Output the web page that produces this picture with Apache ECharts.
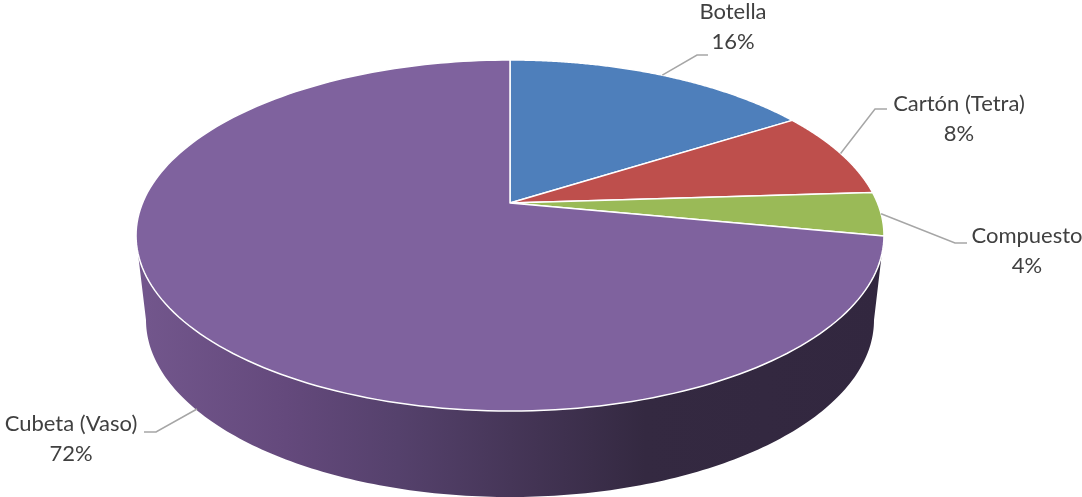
<!DOCTYPE html>
<html>
<head>
<meta charset="utf-8">
<style>
  html, body { margin: 0; padding: 0; background: #fff; }
  #chart { width: 1082px; height: 497px; }
</style>
<script src="https://cdn.jsdelivr.net/npm/echarts@6/dist/echarts.min.js"></script>
</head>
<body>
<div id="chart"></div>
<script>
// Shares of packaging type
var categories = ['Botella', 'Cartón (Tetra)', 'Compuesto', 'Cubeta (Vaso)'];
var shares = [16, 8, 4, 72];
var shareLabels = ['16%', '8%', '4%', '72%'];
var sliceColors = ['#4e7fbb', '#be4f4c', '#9aba57', '#7f629e'];

// Perspective disc: apex position, axis scales and foreshortening strength
var apexX = 510, apexY = 203, scaleX = 367.5, scaleY = 169.5, tilt = 0.1852;
// Lower rim of the extruded side wall
var rimX = 510, rimY = 320, rimRx = 364, rimRy = 177;

// Label placement: centre of the text, elbow and end of each leader line
var labelCenters = [[733, 27], [959, 119], [1027, 251], [71, 439]];
var leaderElbows = [[[697, 55], [708, 55]], [[875, 109], [887, 109]], [[955, 243], [967, 243]], [[156, 432], [144, 432]]];
var wallLeaderStart = [197, 409];

var wallStops = [
  [0, '#73578d'], [0.2, '#64497c'], [0.35, '#55416c'], [0.5, '#463658'],
  [0.68, '#342941'], [1, '#32273f']
];

// Maps a clockwise angle from 12 o'clock onto the tilted disc
function project(deg) {
  var a = deg * Math.PI / 180;
  var X = Math.sin(a), Y = -Math.cos(a), w = 1 - tilt * Y;
  return [apexX + scaleX * X / w, apexY + scaleY * Y / w];
}

var total = shares.reduce(function (s, v) { return s + v; }, 0);
function startAngle(i) {
  var sum = 0;
  for (var k = 0; k < i; k++) sum += shares[k];
  return sum / total * 360;
}

function renderWall() {
  var side = Math.acos(-tilt) * 180 / Math.PI;
  var pts = [];
  for (var d = side; d <= 360 - side; d += 1) pts.push(project(d));
  for (var p = 180; p >= 0; p -= 1) {
    var r = p * Math.PI / 180;
    pts.push([rimX + rimRx * Math.cos(r), rimY + rimRy * Math.sin(r)]);
  }
  return {
    type: 'polygon',
    shape: { points: pts },
    style: {
      fill: new echarts.graphic.LinearGradient(136, 0, 885, 0, wallStops.map(function (s) {
        return { offset: s[0], color: s[1] };
      }), true)
    }
  };
}

function renderSlice(params, api) {
  var i = params.dataIndex;
  var from = startAngle(i), sweep = api.value(0) / total * 360;
  var pts = [[apexX, apexY]];
  for (var n = 0; n <= 180; n++) pts.push(project(from + sweep * n / 180));
  return {
    type: 'polygon',
    shape: { points: pts },
    style: { fill: sliceColors[i], stroke: '#ffffff', lineWidth: 1.5, lineJoin: 'round' }
  };
}

function renderLabel(params, api) {
  var i = params.dataIndex;
  var mid = startAngle(i) + api.value(0) / total * 180;
  var start = i === 3 ? wallLeaderStart : project(mid);
  var c = labelCenters[i];
  return {
    type: 'group',
    children: [
      {
        type: 'polyline',
        shape: { points: [start].concat(leaderElbows[i]) },
        style: { fill: null, stroke: '#a6a6a6', lineWidth: 1.5 }
      },
      {
        type: 'text',
        style: {
          x: c[0], y: c[1],
          text: categories[i] + '\n' + shareLabels[i],
          fill: '#404040',
          font: '22px Lato',
          lineHeight: 29.5,
          align: 'center',
          verticalAlign: 'middle'
        }
      }
    ]
  };
}

var rows = shares.map(function (v, i) { return { name: categories[i], value: [v] }; });

echarts.init(document.getElementById('chart')).setOption({
  animation: false,
  series: [
    { type: 'custom', coordinateSystem: 'none', silent: true, z: 1, data: [[0]], renderItem: renderWall },
    { type: 'custom', coordinateSystem: 'none', silent: true, z: 2, data: rows, renderItem: renderSlice },
    { type: 'custom', coordinateSystem: 'none', silent: true, z: 3, data: rows, renderItem: renderLabel }
  ]
});
</script>
</body>
</html>
